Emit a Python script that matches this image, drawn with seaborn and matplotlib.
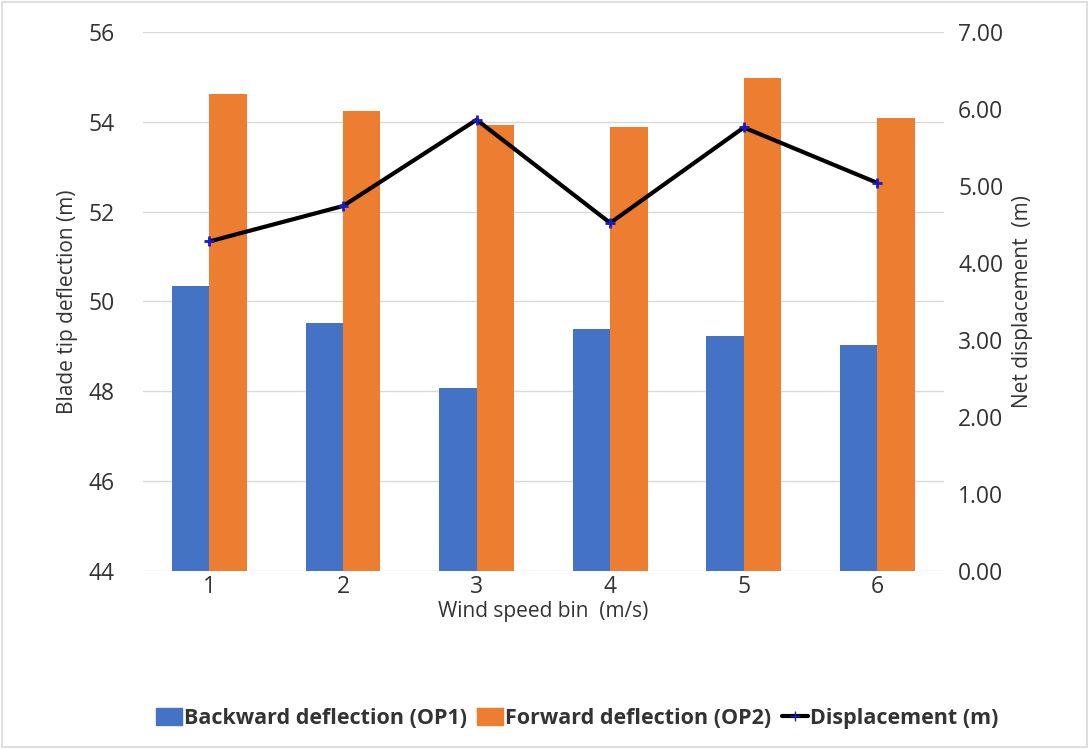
import numpy as np
import pandas as pd
import matplotlib
matplotlib.use("Agg")
import matplotlib.pyplot as plt
import seaborn as sns
from matplotlib.patches import Rectangle
from matplotlib.lines import Line2D

bins = ["1", "2", "3", "4", "5", "6"]
backward = [50.35, 49.51, 48.08, 49.39, 49.23, 49.04]
forward = [54.62, 54.23, 53.92, 53.88, 54.98, 54.08]
displacement = [4.28, 4.74, 5.86, 4.52, 5.76, 5.04]
series_names = ["Backward deflection (OP1)", "Forward deflection (OP2)"]
line_name = "Displacement (m)"
left_ticks = [44, 46, 48, 50, 52, 54, 56]
right_ticks = [0, 1, 2, 3, 4, 5, 6, 7]

sns.set_theme(style="white")
plt.rcParams['font.family'] = ['Open Sans', 'DejaVu Sans']

df = pd.DataFrame({
    "bin": bins * 2,
    "value": backward + forward,
    "series": [series_names[0]] * 6 + [series_names[1]] * 6,
})

fig = plt.figure(figsize=(10.89, 7.49), dpi=100)
ax = fig.add_axes([0.131, 0.2377, 0.736, 0.7196])
txt = "#333333"

sns.barplot(data=df, x="bin", y="value", hue="series", order=bins,
            hue_order=series_names, palette=["#4472C4", "#ED7D31"],
            width=0.56, gap=0, saturation=1, linewidth=0, ax=ax, legend=False)
ax.set_ylim(44, 56)
ax.set_yticks(left_ticks)
ax.set_yticklabels([str(t) for t in left_ticks], fontsize=16.5, color=txt)
ax.set_xlim(-0.5, 5.5)
ax.tick_params(axis="x", labelsize=16.5, colors=txt, length=0, pad=3)
ax.tick_params(axis="y", length=0, pad=20)
ax.yaxis.grid(True, color="#d9d9d9", linewidth=1)
ax.set_axisbelow(True)
for s in ax.spines.values():
    s.set_visible(False)
ax.set_xlabel("Wind speed bin  (m/s)", fontsize=15, color=txt, labelpad=1)
ax.set_ylabel("Blade tip deflection (m)", fontsize=15, color=txt, labelpad=8)

ax2 = ax.twinx()
sns.lineplot(x=np.arange(len(bins)), y=displacement, ax=ax2, color="black",
             linewidth=3, marker="+", markersize=7, markeredgecolor="#1a1acc",
             markeredgewidth=2, legend=False)
ax2.set_ylim(0, 7)
ax2.set_yticks(right_ticks)
ax2.set_yticklabels([f"{t:.2f}" for t in right_ticks], fontsize=16.5, color=txt)
ax2.tick_params(axis="y", length=0, pad=10)
ax2.grid(False)
for s in ax2.spines.values():
    s.set_visible(False)
ax2.set_ylabel("Net displacement  (m)", fontsize=15, color=txt, labelpad=6)

handles = [Rectangle((0, 0), 1, 1, color="#4472C4"),
           Rectangle((0, 0), 1, 1, color="#ED7D31"),
           Line2D([0], [0], color="black", linewidth=3, marker="+",
                  markeredgecolor="#1a1acc", markersize=7)]
leg = fig.legend(handles, series_names + [line_name], loc="center",
                 bbox_to_anchor=(0.53, 0.041), ncol=3, frameon=False,
                 fontsize=15.5, handlelength=1.2, handleheight=0.9,
                 handletextpad=0.1, columnspacing=0.5)
for t in leg.get_texts():
    t.set_fontweight("bold")
    t.set_color(txt)

fig.patches.append(Rectangle((0.002, 0.003), 0.996, 0.994, transform=fig.transFigure,
                             fill=False, edgecolor="#d9d9d9", linewidth=1.2))

fig.savefig("out.png", dpi=100)
